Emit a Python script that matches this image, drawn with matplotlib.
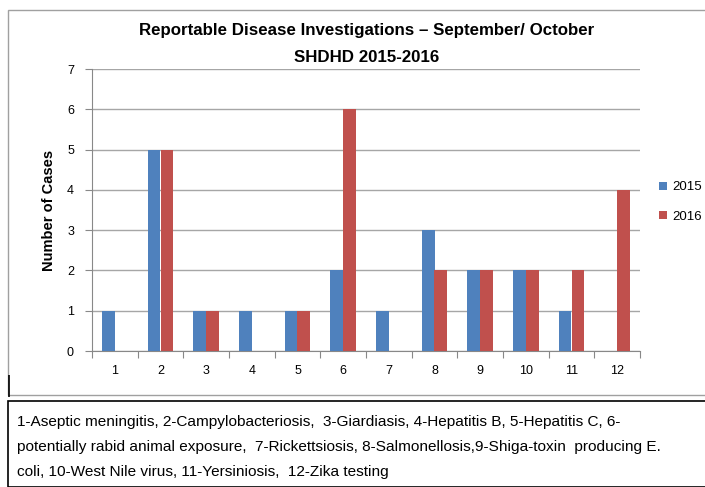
import numpy as np
import matplotlib.pyplot as plt
from matplotlib.patches import Rectangle

categories = ["1", "2", "3", "4", "5", "6", "7", "8", "9", "10", "11", "12"]
cases_2015 = [1, 5, 1, 1, 1, 2, 1, 3, 2, 2, 1, 0]
cases_2016 = [0, 5, 1, 0, 1, 6, 0, 2, 2, 2, 2, 4]
legend_labels = ["2015", "2016"]
footnote = ["1-Aseptic meningitis, 2-Campylobacteriosis,  3-Giardiasis, 4-Hepatitis B, 5-Hepatitis C, 6-",
            "potentially rabid animal exposure,  7-Rickettsiosis, 8-Salmonellosis,9-Shiga-toxin  producing E.",
            "coli, 10-West Nile virus, 11-Yersiniosis,  12-Zika testing"]

plt.rcParams['font.family'] = ['Liberation Sans', 'DejaVu Sans']

W, H = 705, 487
fig = plt.figure(figsize=(W / 100, H / 100), dpi=100)

# chart frame and footnote box
fig.patches.append(Rectangle((8 / W, 1 - 395 / H), 1, 385 / H, transform=fig.transFigure,
                             fill=False, edgecolor="#a0a0a0", lw=1))
fig.patches.append(Rectangle((9 / W, 1 - 397 / H), 0, 22 / H, transform=fig.transFigure,
                             fill=False, edgecolor="black", lw=1.2))
fig.patches.append(Rectangle((8 / W, 0), 1, (H - 401) / H, transform=fig.transFigure,
                             fill=False, edgecolor="black", lw=1.2))

ax = fig.add_axes([92 / W, 1 - 351 / H, 548 / W, 282 / H])
x = np.arange(len(categories))
w = 0.28
ax.bar(x - w / 2, cases_2015, w, color="#4F81BD", label=legend_labels[0], zorder=3)
ax.bar(x + w / 2, cases_2016, w, color="#C0504D", label=legend_labels[1], zorder=3)

ax.set_xlim(-0.5, len(categories) - 0.5)
ax.set_ylim(0, 7)
ax.set_yticks(range(8))
ax.grid(axis="y", color="#a6a6a6", lw=1, zorder=0)
ax.set_xticks(np.arange(-0.5, len(categories)), minor=False)
ax.set_xticklabels([])
ax.set_xticks(x, minor=True)
ax.set_xticklabels(categories, minor=True)
ax.tick_params(axis="x", which="major", length=5, color="#888888")
ax.tick_params(axis="x", which="minor", length=0, pad=10, labelsize=9)
ax.tick_params(axis="y", length=5, color="#888888", labelsize=9, pad=8)
for s in ["top", "right"]:
    ax.spines[s].set_visible(False)
ax.spines["left"].set_color("#888888")
ax.spines["bottom"].set_color("#888888")
ax.set_ylabel("Number of Cases", fontsize=10.5, fontweight="bold", labelpad=8)

fig.text(367 / W, 1 - 30 / H, "Reportable Disease Investigations \u2013 September/ October",
         ha="center", va="center", fontsize=12.2, fontweight="bold")
fig.text(367 / W, 1 - 58 / H, "SHDHD 2015-2016",
         ha="center", va="center", fontsize=12.2, fontweight="bold")

ax.legend(loc="center left", bbox_to_anchor=(650 / W, 1 - 202 / H), bbox_transform=fig.transFigure,
          frameon=False, fontsize=9.5, handlelength=0.6, handleheight=0.6, handletextpad=0.4,
          labelspacing=1.3, borderpad=0.2)

for i, line in enumerate(footnote):
    fig.text(17 / W, 1 - (422 + 25 * i) / H, line, ha="left", va="center", fontsize=11.1)

fig.savefig("out.png", dpi=100)
